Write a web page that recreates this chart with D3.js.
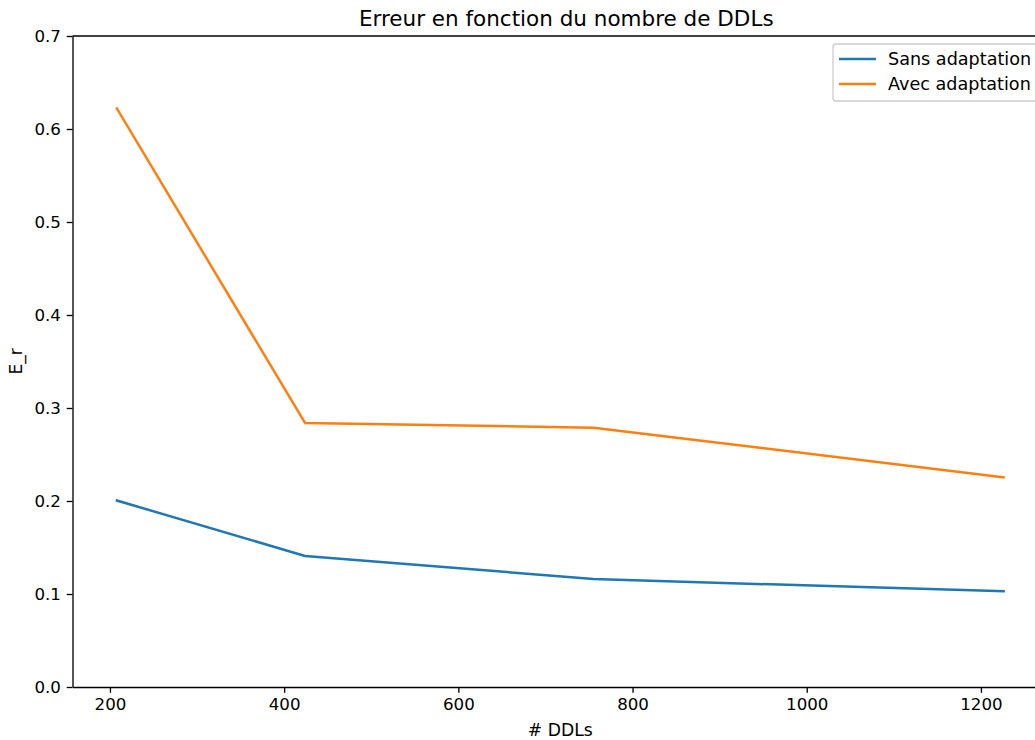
<!DOCTYPE html>
<html>
<head>
<meta charset="utf-8">
<script src="https://cdn.jsdelivr.net/npm/d3@7"></script>
<style>
  html, body { margin: 0; padding: 0; background: #fff; overflow: hidden; }
  svg { display: block; font-family: "DejaVu Sans", sans-serif; }
</style>
</head>
<body>
<div id="chart"></div>
<script>
// Données
const ddls = [208, 424, 755, 1226];
const sansAdaptation = [0.2005, 0.1409, 0.1161, 0.1029];
const avecAdaptation = [0.622, 0.2839, 0.2788, 0.2255];
const seriesNames = ["Sans adaptation", "Avec adaptation"];
const seriesColors = ["#1f77b4", "#ff7f0e"];
const xTicks = [200, 400, 600, 800, 1000, 1200];
const yTicks = [0.0, 0.1, 0.2, 0.3, 0.4, 0.5, 0.6, 0.7];

const width = 1035, height = 740;
// La figure est rognée à droite : l'axe continue au-delà de la fenêtre
const margin = { top: 36, left: 72.5, bottom: 687, right: 1048 };

const svg = d3.select("#chart").append("svg")
    .attr("width", width)
    .attr("height", height);

const xScale = d3.scaleLinear()
    .domain([157, 1277])
    .range([margin.left, margin.right]);

const yScale = d3.scaleLinear()
    .domain([0, 0.7])
    .range([margin.bottom, margin.top]);

const series = [sansAdaptation, avecAdaptation];

const line = d3.line()
    .x(d => xScale(d[0]))
    .y(d => yScale(d[1]));

series.forEach((values, i) => {
    svg.append("path")
        .datum(ddls.map((x, j) => [x, values[j]]))
        .attr("fill", "none")
        .attr("stroke", seriesColors[i])
        .attr("stroke-width", 2.5)
        .attr("stroke-linejoin", "round")
        .attr("stroke-linecap", "square")
        .attr("d", line);
});

// Axes
const xAxis = d3.axisBottom(xScale)
    .tickValues(xTicks)
    .tickFormat(d3.format("d"))
    .tickSize(5.8)
    .tickPadding(5.8)
    .tickSizeOuter(0);

const gx = svg.append("g")
    .attr("transform", `translate(0,${margin.bottom})`)
    .call(xAxis);

const yAxis = d3.axisLeft(yScale)
    .tickValues(yTicks)
    .tickFormat(d3.format(".1f"))
    .tickSize(5.8)
    .tickPadding(5.8)
    .tickSizeOuter(0);

const gy = svg.append("g")
    .attr("transform", `translate(${margin.left},0)`)
    .call(yAxis);

[gx, gy].forEach(g => {
    g.selectAll("text")
        .attr("font-size", 16.67)
        .attr("font-family", "DejaVu Sans, sans-serif")
        .attr("fill", "#000");
    g.selectAll("line").attr("stroke", "#000").attr("stroke-width", 1.33);
    g.select(".domain").attr("stroke", "#000").attr("stroke-width", 1.33);
});

// Cadre du haut
svg.append("line")
    .attr("x1", margin.left)
    .attr("x2", margin.right)
    .attr("y1", margin.top)
    .attr("y2", margin.top)
    .attr("stroke", "#000")
    .attr("stroke-width", 1.33);

// Titre et libellés
svg.append("text")
    .attr("x", (margin.left + margin.right) / 2 + 6)
    .attr("y", 26)
    .attr("text-anchor", "middle")
    .attr("font-size", 21.5)
    .text("Erreur en fonction du nombre de DDLs");

svg.append("text")
    .attr("x", (margin.left + margin.right) / 2)
    .attr("y", 736)
    .attr("text-anchor", "middle")
    .attr("font-size", 17.2)
    .text("# DDLs");

svg.append("text")
    .attr("transform", `translate(22,${(margin.top + margin.bottom) / 2}) rotate(-90)`)
    .attr("text-anchor", "middle")
    .attr("font-size", 17)
    .text("E_r");

// Légende
const legend = svg.append("g");
legend.append("rect")
    .attr("x", 833)
    .attr("y", 44)
    .attr("width", 210)
    .attr("height", 57)
    .attr("rx", 3)
    .attr("fill", "#fff")
    .attr("fill-opacity", 0.8)
    .attr("stroke", "#cccccc")
    .attr("stroke-width", 1.33);

seriesNames.forEach((name, i) => {
    const y = 59 + i * 25;
    legend.append("line")
        .attr("x1", 839)
        .attr("x2", 876)
        .attr("y1", y)
        .attr("y2", y)
        .attr("stroke", seriesColors[i])
        .attr("stroke-width", 2.5);
    legend.append("text")
        .attr("x", 888)
        .attr("y", y + 6)
        .attr("font-size", 17.6)
        .text(name);
});
</script>
</body>
</html>
